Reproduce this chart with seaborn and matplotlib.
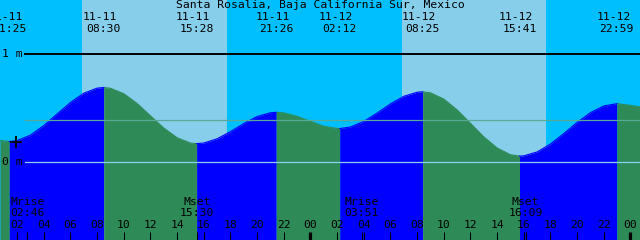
import matplotlib
matplotlib.use("Agg")
import matplotlib.pyplot as plt
import numpy as np
import pandas as pd
import seaborn as sns

# ---------------- data ----------------
title = "Santa Rosalia, Baja California Sur, Mexico"

# tide extremes (date, time, height in m)
event_dates = ["11-11", "11-11", "11-11", "11-11", "11-12", "11-12", "11-12", "11-12"]
event_times = ["01:25", "08:30", "15:28", "21:26", "02:12", "08:25", "15:41", "22:59"]
event_heights = [0.19, 0.69, 0.17, 0.46, 0.31, 0.65, 0.055, 0.54]

# tide curve (hours since 11-11 00:00, metres)
curve_hours = [0.72, 1, 2, 3, 4, 5, 6, 7, 8, 9, 10, 11, 12, 13, 14, 15, 16, 17, 18,
               19, 20, 21, 22, 23, 24, 25, 26, 27, 28, 29, 30, 31, 32, 33, 34, 35,
               36, 37, 38, 39, 40, 41, 42, 43, 44, 45, 46, 47, 48, 48.72]
curve_heights = [0.20, 0.195, 0.198, 0.249, 0.337, 0.445, 0.551, 0.637, 0.684, 0.683,
                 0.633, 0.542, 0.428, 0.315, 0.225, 0.176, 0.176, 0.215, 0.281, 0.356,
                 0.421, 0.456, 0.455, 0.423, 0.376, 0.332, 0.311, 0.324, 0.376, 0.453,
                 0.538, 0.608, 0.646, 0.641, 0.583, 0.483, 0.359, 0.233, 0.130, 0.068,
                 0.057, 0.093, 0.166, 0.263, 0.366, 0.457, 0.519, 0.540, 0.525, 0.51]

# sun (day background)
sunrise_dates = ["11-11", "11-12"]
sunrise_times = ["06:52", "06:53"]
sunset_times = ["17:45", "17:41"]

# moon events
moon_names = ["Mrise", "Mset", "Mrise", "Mset"]
moon_dates = ["11-11", "11-11", "11-12", "11-12"]
moon_times = ["02:46", "15:30", "03:51", "16:09"]

# hour axis
tick_hours = [2, 4, 6, 8, 10, 12, 14, 16, 18, 20, 22, 24,
              26, 28, 30, 32, 34, 36, 38, 40, 42, 44, 46, 48]
tick_labels = ["02", "04", "06", "08", "10", "12", "14", "16", "18", "20", "22", "00",
               "02", "04", "06", "08", "10", "12", "14", "16", "18", "20", "22", "00"]

level_labels = ["1 m", "0 m"]
level_values = [1.0, 0.0]
mean_level = 0.387
now_hour, now_height = 1.92, 0.185
x_range = (0.72, 48.72)
y_range = (-0.722, 1.5)

# ---------------- helpers ----------------
def to_hours(date, hm):
    day = 0 if date == "11-11" else 24
    h, m = hm.split(":")
    return day + int(h) + int(m) / 60.0

W, H = 640, 240
MONO = "DejaVu Sans Mono"
FS = 8.2

ev_h = [to_hours(d, t) for d, t in zip(event_dates, event_times)]
is_high = []
for i, h in enumerate(event_heights):
    other = event_heights[i + 1] if i + 1 < len(event_heights) else event_heights[i - 1]
    is_high.append(h > other)

curve = pd.DataFrame({"hour": list(curve_hours) + ev_h,
                      "height": list(curve_heights) + event_heights})
curve = curve.sort_values("hour").drop_duplicates("hour").reset_index(drop=True)

bounds = [x_range[0]] + ev_h + [x_range[1]]
ends_high = is_high + [False]  # segment after last event falls
rows = []
for i in range(len(bounds) - 1):
    a, b = bounds[i], bounds[i + 1]
    seg = curve[(curve.hour >= a - 1e-9) & (curve.hour <= b + 1e-9)].copy()
    seg["segment"] = i
    seg["phase"] = "rising" if ends_high[i] else "falling"
    rows.append(seg)
segs = pd.concat(rows, ignore_index=True)

palette = {"rising": "#0000FF", "falling": "#2E8B57"}
NIGHT, DAY = "#00BFFF", "#87CEEB"

# ---------------- figure ----------------
fig = plt.figure(figsize=(W / 100, H / 100), dpi=100)
ax = fig.add_axes([0, 0, 1, 1])
ax.set_facecolor(NIGHT)
ax.set_xlim(*x_range)
ax.set_ylim(*y_range)
for s in ax.spines.values():
    s.set_visible(False)

for d, sr, ss in zip(sunrise_dates, sunrise_times, sunset_times):
    ax.axvspan(to_hours(d, sr), to_hours(d, ss), color=DAY, lw=0, zorder=0)

for sid, seg in segs.groupby("segment"):
    ax.fill_between(seg.hour, y_range[0], seg.height,
                    color=palette[seg.phase.iloc[0]], lw=0, zorder=1)

sns.lineplot(data=segs, x="hour", y="height", hue="phase", units="segment",
             estimator=None, sort=False, palette=palette, lw=0.8,
             legend=False, ax=ax, zorder=1.5)
ax.set_xlabel("")
ax.set_ylabel("")

# level lines
ax.axhline(1.0, xmin=25 / W, color="black", lw=1.4, zorder=2)
ax.axhline(0.0, xmin=25 / W, color="#8ccfee", lw=0.9, zorder=2)
ax.axhline(mean_level, xmin=25 / W, color="#5aa896", lw=0.9, zorder=2)

for lab, v in zip(level_labels, level_values):
    ax.text(1.5 / W, v, lab, transform=ax.get_yaxis_transform(), ha="left",
            va="center", fontsize=FS, family=MONO, color="black", zorder=5)

ax.plot([now_hour], [now_height], marker="+", ms=9, mew=1.3, color="black",
        zorder=5)

# hour ticks
ax.set_yticks([])
ax.set_xticks(tick_hours)
ax.set_xticklabels(tick_labels, fontsize=FS, family=MONO)
ax.tick_params(axis="x", direction="in", length=8 * 0.72, width=0.75,
               color="black", pad=-(H - 225) * 0.72, zorder=6)
for lbl in ax.get_xticklabels():
    lbl.set_va("center")
for tk, lab in zip(ax.xaxis.get_major_ticks(), tick_labels):
    if lab == "00":
        tk.tick1line.set_markeredgewidth(2.3)
moon_h = [to_hours(d, t) for d, t in zip(moon_dates, moon_times)]
ax.set_xticks(moon_h, minor=True)
ax.tick_params(axis="x", which="minor", direction="in", length=8 * 0.72,
               width=0.75, color="black")

xt = ax.get_xaxis_transform()
for name, mh, mt in zip(moon_names, moon_h, moon_times):
    ax.text(mh, 1 - 202 / H, name, transform=xt, ha="center", va="center",
            fontsize=FS, family=MONO, zorder=5)
    ax.text(mh, 1 - 213 / H, mt, transform=xt, ha="center", va="center",
            fontsize=FS, family=MONO, zorder=5)

# event labels
for eh, d, t in zip(ev_h, event_dates, event_times):
    ax.annotate(d, xy=(eh, 1 - 17 / H), xycoords=xt, xytext=(-2.5, 0),
                textcoords="offset points", ha="center", va="center",
                fontsize=FS, family=MONO, annotation_clip=False, zorder=5)
    ax.text(eh, 1 - 29 / H, t, transform=xt, ha="center", va="center",
            fontsize=FS, family=MONO, zorder=5)

fig.text(0.5, 1 - 5.5 / H, title, ha="center", va="center", fontsize=FS,
         family=MONO, color="black")

fig.savefig("out.png", dpi=100)
